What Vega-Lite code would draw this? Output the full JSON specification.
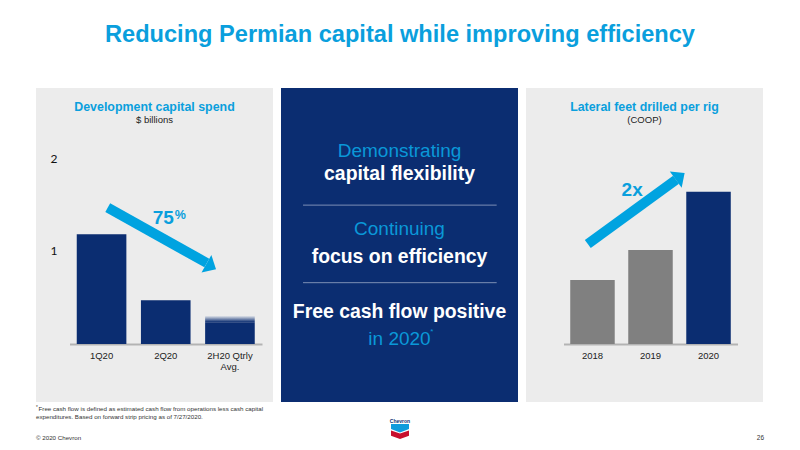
{
  "$schema": "https://vega.github.io/schema/vega-lite/v6.json",
  "background": "white",
  "padding": {"left": 36, "top": 23, "right": 36, "bottom": 0},
  "title": {
    "text": "Reducing Permian capital while improving efficiency",
    "font": "Liberation Sans",
    "fontSize": 23.6,
    "fontWeight": "bold",
    "color": "#0a9fdd",
    "anchor": "middle",
    "offset": 41
  },
  "datasets": {
    "spend": [
      {"period": "1Q20", "value": 1.18},
      {"period": "2Q20", "value": 0.47},
      {"period": "2H20 Qtrly Avg.", "value": 0.235, "faded": 0.3}
    ],
    "lateral": [
      {"year": "2018", "value": 1.0},
      {"year": "2019", "value": 1.47},
      {"year": "2020", "value": 2.38}
    ],
    "messages": [
      {"line": "Demonstrating", "across": 0.5, "down": 0.2, "kind": "lead"},
      {"line": "capital flexibility", "across": 0.5, "down": 0.275, "kind": "strong"},
      {"line": "Continuing", "across": 0.5, "down": 0.45, "kind": "lead"},
      {"line": "focus on efficiency", "across": 0.5, "down": 0.539, "kind": "strong"},
      {"line": "Free cash flow positive", "across": 0.5, "down": 0.7145, "kind": "strong"},
      {"line": "in 2020", "across": 0.5, "down": 0.799, "kind": "lead"}
    ],
    "notes": [
      {"line": "Free cash flow is defined as estimated cash flow from operations less cash capital", "across": 0.0035, "down": 0.152},
      {"line": "expenditures. Based on forward strip pricing as of 7/27/2020.", "across": 0, "down": 0.3125},
      {"line": "© 2020 Chevron", "across": 0, "down": 0.756}
    ]
  },
  "vconcat": [
    {
      "hconcat": [
        {
          "width": 237,
          "height": 314,
          "view": {"fill": "#ececec", "stroke": null},
          "title": {
            "text": "Development capital spend",
            "subtitle": "$ billions",
            "font": "Liberation Sans",
            "fontSize": 12.4,
            "fontWeight": "bold",
            "color": "#0a9fdd",
            "subtitleFont": "Liberation Sans",
            "subtitleFontSize": 9.5,
            "subtitleColor": "#222222",
            "subtitlePadding": 1,
            "anchor": "middle",
            "offset": -36
          },
          "resolve": {"scale": {"x": "independent"}},
          "layer": [
            {
              "data": {"name": "spend"},
              "encoding": {
                "x": {
                  "field": "period",
                  "type": "nominal",
                  "sort": null,
                  "scale": {"domain": ["1Q20", "2Q20", "2H20 Qtrly Avg."], "range": [33.5, 226], "paddingInner": 0.227, "paddingOuter": 0.113},
                  "axis": {
                    "title": null,
                    "offset": -58,
                    "ticks": false,
                    "labelAngle": 0,
                    "labelFont": "Liberation Sans",
                    "labelFontSize": 9.5,
                    "labelColor": "#222222",
                    "labelPadding": 6,
                    "domainColor": "#b3b3b3",
                    "domainWidth": 2,
                    "labelExpr": "datum.label == '2H20 Qtrly Avg.' ? ['2H20 Qtrly', 'Avg.'] : datum.label"
                  }
                }
              },
              "layer": [
                {
                  "mark": {"type": "bar", "color": "#0b2d71"},
                  "encoding": {
                    "y": {
                      "field": "value",
                      "type": "quantitative",
                      "scale": {"domain": [-0.624, 2.753], "nice": false},
                      "axis": {
                        "title": null,
                        "values": [1, 2],
                        "format": "d",
                        "domain": false,
                        "ticks": false,
                        "grid": false,
                        "offset": -21,
                        "labelPadding": 0,
                        "labelFont": "Lato",
                        "labelFontSize": 12,
                        "labelColor": "#111111"
                      }
                    }
                  }
                },
                {
                  "transform": [{"filter": "isValid(datum.faded)"}],
                  "mark": {
                    "type": "bar",
                    "color": {
                      "gradient": "linear",
                      "x1": 0, "y1": 1, "x2": 0, "y2": 0,
                      "stops": [
                        {"offset": 0, "color": "#0b2d71"},
                        {"offset": 1, "color": "#dde1e8"}
                      ]
                    }
                  },
                  "encoding": {
                    "y": {"field": "faded", "type": "quantitative"},
                    "y2": {"field": "value"}
                  }
                }
              ]
            },
            {
              "encoding": {
                "x": {
                  "field": "x",
                  "type": "quantitative",
                  "scale": {"domain": [-1.0227, 2.68], "nice": false},
                  "axis": null
                },
                "y": {"field": "y", "type": "quantitative"}
              },
              "layer": [
                {
                  "data": {"values": [{"x": 0.098, "y": 1.466, "xEnd": 1.646, "yEnd": 0.871}]},
                  "mark": {"type": "rule", "color": "#00a3e0", "strokeWidth": 10},
                  "encoding": {
                    "x2": {"field": "xEnd"},
                    "y2": {"field": "yEnd"}
                  }
                },
                {
                  "data": {"values": [{"x": 1.715, "y": 0.833}]},
                  "mark": {
                    "type": "point",
                    "filled": true,
                    "opacity": 1,
                    "color": "#00a3e0",
                    "shape": "M-1,0.55L0,-0.55L1,0.55Z",
                    "size": 400,
                    "angle": 119.5
                  }
                },
                {
                  "data": {"values": [{"label": "75", "x": 0.966, "y": 1.355}]},
                  "mark": {"type": "text", "font": "Liberation Sans", "fontWeight": "bold", "fontSize": 19, "color": "#0a9fdd"},
                  "encoding": {"text": {"field": "label"}}
                },
                {
                  "data": {"values": [{"label": "%", "x": 1.232, "y": 1.387}]},
                  "mark": {"type": "text", "font": "Liberation Sans", "fontWeight": "bold", "fontSize": 12.5, "color": "#0a9fdd"},
                  "encoding": {"text": {"field": "label"}}
                }
              ]
            }
          ]
        },
        {
          "width": 237,
          "height": 314,
          "view": {"fill": "#0b2d71", "stroke": null},
          "layer": [
            {
              "data": {"values": [{"place": 0.373}, {"place": 0.62}]},
              "mark": {"type": "rule", "color": "#7d8fb5", "strokeWidth": 1},
              "encoding": {
                "x": {"datum": 0.093, "type": "quantitative", "scale": {"domain": [0, 1], "nice": false}, "axis": null},
                "x2": {"datum": 0.91},
                "y": {"field": "place", "type": "quantitative", "scale": {"domain": [1, 0], "nice": false}, "axis": null}
              }
            },
            {
              "data": {"name": "messages"},
              "transform": [{"filter": "datum.kind == 'lead'"}],
              "mark": {"type": "text", "font": "Liberation Sans", "fontSize": 19, "color": "#0a98d8"},
              "encoding": {
                "x": {"field": "across", "type": "quantitative"},
                "y": {"field": "down", "type": "quantitative"},
                "text": {"field": "line"}
              }
            },
            {
              "data": {"name": "messages"},
              "transform": [{"filter": "datum.kind == 'strong'"}],
              "mark": {"type": "text", "font": "Liberation Sans", "fontWeight": "bold", "fontSize": 19.4, "color": "white"},
              "encoding": {
                "x": {"field": "across", "type": "quantitative"},
                "y": {"field": "down", "type": "quantitative"},
                "text": {"field": "line"}
              }
            },
            {
              "data": {"values": [{"line": "*", "across": 0.636, "down": 0.777}]},
              "mark": {"type": "text", "font": "Liberation Sans", "fontSize": 8, "color": "#0a98d8"},
              "encoding": {
                "x": {"field": "across", "type": "quantitative"},
                "y": {"field": "down", "type": "quantitative"},
                "text": {"field": "line"}
              }
            }
          ]
        },
        {
          "width": 237,
          "height": 314,
          "view": {"fill": "#ececec", "stroke": null},
          "title": {
            "text": "Lateral feet drilled per rig",
            "subtitle": "(COOP)",
            "font": "Liberation Sans",
            "fontSize": 12.4,
            "fontWeight": "bold",
            "color": "#0a9fdd",
            "subtitleFont": "Liberation Sans",
            "subtitleFontSize": 9.5,
            "subtitleColor": "#222222",
            "subtitlePadding": 1,
            "anchor": "middle",
            "offset": -36
          },
          "resolve": {"scale": {"x": "independent"}},
          "layer": [
            {
              "data": {"name": "lateral"},
              "mark": {"type": "bar"},
              "encoding": {
                "x": {
                  "field": "year",
                  "type": "nominal",
                  "scale": {"range": [37.5, 211.5], "paddingInner": 0.233, "paddingOuter": 0.116},
                  "axis": {
                    "title": null,
                    "offset": -58,
                    "ticks": false,
                    "labelAngle": 0,
                    "labelFont": "Liberation Sans",
                    "labelFontSize": 9.5,
                    "labelColor": "#222222",
                    "labelPadding": 6,
                    "domainColor": "#b3b3b3",
                    "domainWidth": 2
                  }
                },
                "y": {
                  "field": "value",
                  "type": "quantitative",
                  "scale": {"domain": [-0.906, 4], "nice": false},
                  "axis": null
                },
                "color": {
                  "field": "year",
                  "type": "nominal",
                  "scale": {"domain": ["2018", "2019", "2020"], "range": ["#808080", "#808080", "#0b2d71"]},
                  "legend": null
                }
              }
            },
            {
              "encoding": {
                "x": {
                  "field": "x",
                  "type": "quantitative",
                  "scale": {"domain": [-1.1466, 2.94], "nice": false},
                  "axis": null
                },
                "y": {"field": "y", "type": "quantitative"}
              },
              "layer": [
                {
                  "data": {"values": [{"x": -0.081, "y": 1.5625, "xEnd": 1.44, "yEnd": 2.567}]},
                  "mark": {"type": "rule", "color": "#00a3e0", "strokeWidth": 10},
                  "encoding": {
                    "x2": {"field": "xEnd"},
                    "y2": {"field": "yEnd"}
                  }
                },
                {
                  "data": {"values": [{"x": 1.512, "y": 2.62}]},
                  "mark": {
                    "type": "point",
                    "filled": true,
                    "opacity": 1,
                    "color": "#00a3e0",
                    "shape": "M-1,0.55L0,-0.55L1,0.55Z",
                    "size": 400,
                    "angle": 53.7
                  }
                },
                {
                  "data": {"values": [{"label": "2x", "x": 0.684, "y": 2.41}]},
                  "mark": {"type": "text", "font": "Liberation Sans", "fontWeight": "bold", "fontSize": 19, "color": "#0a9fdd"},
                  "encoding": {"text": {"field": "label"}}
                }
              ]
            }
          ]
        }
      ],
      "spacing": 8
    },
    {
      "width": 728,
      "height": 48,
      "view": {"stroke": null},
      "encoding": {
        "x": {"field": "across", "type": "quantitative", "scale": {"domain": [0, 1], "nice": false}, "axis": null},
        "y": {"field": "down", "type": "quantitative", "scale": {"domain": [1, 0], "nice": false}, "axis": null}
      },
      "layer": [
        {
          "data": {"name": "notes"},
          "mark": {"type": "text", "align": "left", "font": "Liberation Sans", "fontSize": 6.2, "color": "#333333"},
          "encoding": {"text": {"field": "line"}}
        },
        {
          "data": {"values": [{"line": "*", "across": 0, "down": 0.135}]},
          "mark": {"type": "text", "align": "left", "font": "Liberation Sans", "fontSize": 4.5, "color": "#333333"},
          "encoding": {"text": {"field": "line"}}
        },
        {
          "data": {"values": [{"line": "26", "across": 1, "down": 0.756}]},
          "mark": {"type": "text", "align": "right", "font": "Liberation Sans", "fontSize": 6.5, "color": "#333333"},
          "encoding": {"text": {"field": "line"}}
        },
        {
          "data": {"values": [{"line": "Chevron", "across": 0.5, "down": 0.396}]},
          "mark": {"type": "text", "font": "Liberation Sans", "fontWeight": "bold", "fontSize": 5, "color": "#0b2d71"},
          "encoding": {"text": {"field": "line"}}
        },
        {
          "data": {"values": [{"across": 0.5, "down": 0.542}]},
          "mark": {
            "type": "point",
            "filled": true,
            "opacity": 1,
            "color": "#0f9bdc",
            "shape": "M-1,-0.44L1,-0.44L1,0.1L0,0.5L-1,0.1Z",
            "size": 324
          }
        },
        {
          "data": {"values": [{"across": 0.5, "down": 0.677}]},
          "mark": {
            "type": "point",
            "filled": true,
            "opacity": 1,
            "color": "#c8102e",
            "shape": "M-1,-0.44L0,-0.1L1,-0.44L1,0.15L0,0.5L-1,0.15Z",
            "size": 324
          }
        }
      ]
    }
  ],
  "spacing": 0
}
